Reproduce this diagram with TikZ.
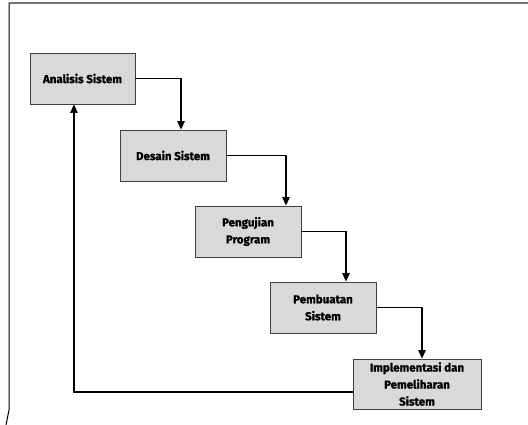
\documentclass[tikz,border=0pt]{standalone}
\usepackage{fontspec}
\setmainfont{Fira Sans}[BoldFeatures={FakeBold=1.2}]
\usepackage{tikz}
\usetikzlibrary{arrows.meta}

\begin{document}
\begin{tikzpicture}[x=1pt, y=-1pt,
        stage/.style={draw=black!75, fill=black!15, line width=0.9pt, minimum height=51pt,
                      minimum width=106pt, align=center, inner sep=1pt,
                      font=\bfseries\fontsize{11.5}{17}\selectfont},
        flow/.style={-{Triangle[length=8.5pt, width=7.5pt]}, line width=1.2pt}]
        \useasboundingbox (0,0) rectangle (528,425);

        % Frame
        \draw[black!55, line width=1.2pt] (9,3) -- (528,3);
        \draw[line width=1pt] (9,3) -- (9,410) -- (6,425);

        % Stages
        \node[stage, minimum width=105pt] (analisis) at (82.5,78.5) {Analisis Sistem};
        \node[stage] (desain) at (173,155.5) {Desain Sistem};
        \node[stage] (pengujian) at (248,231.5) {Pengujian\\Program};
        \node[stage] (pembuatan) at (323,307.5) {Pembuatan\\Sistem};
        \node[stage, minimum width=128pt, minimum height=50pt] (implementasi) at (417,384)
              {Implementasi dan\\Pemeliharan\\Sistem};

        % Edges
        \draw[flow] (analisis.east) -| ([xshift=8pt]desain.north);
        \draw[flow] (desain.east) -| ([xshift=38pt]pengujian.north);
        \draw[flow] (pengujian.east) -| ([xshift=23pt]pembuatan.north);
        \draw[flow] (pembuatan.east) -| ([xshift=5pt]implementasi.north);
        \draw[flow] ([yshift=-8pt]implementasi.west) -| ([xshift=-8.5pt]analisis.south);
    \end{tikzpicture}
\end{document}
